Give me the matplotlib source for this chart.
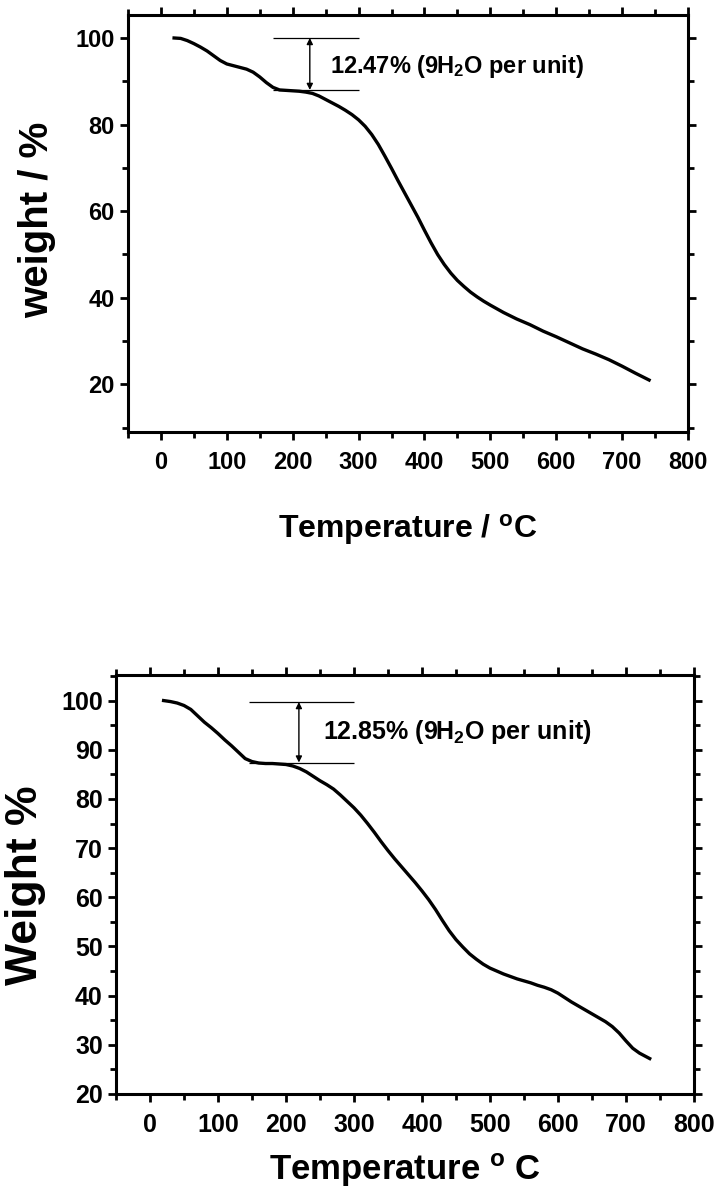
import matplotlib
matplotlib.use("Agg")
import matplotlib.pyplot as plt
from matplotlib.ticker import MultipleLocator

# fuente tipo Arial en negrita
plt.rcParams['font.family'] = ['Liberation Sans Narrow', 'Liberation Sans', 'DejaVu Sans']
plt.rcParams['font.weight'] = 'bold'
plt.rcParams['axes.labelweight'] = 'bold'
plt.rcParams['mathtext.fontset'] = 'custom'
plt.rcParams['mathtext.rm'] = 'Liberation Sans:bold'
plt.rcParams['mathtext.it'] = 'Liberation Sans'
plt.rcParams['mathtext.bf'] = 'Liberation Sans:bold'

# Datos curva superior (TGA)
temp_a = [20, 30, 40, 50, 60, 70, 80, 90, 100, 110, 120, 130, 140, 150, 160, 170, 180, 190,
          200, 210, 220, 230, 240, 250, 260, 270, 280, 290, 300, 310, 320, 330, 340, 350,
          360, 370, 380, 390, 400, 410, 420, 430, 440, 450, 460, 470, 480, 490, 500, 520,
          540, 560, 580, 600, 620, 640, 660, 680, 700, 720, 741]
weight_a = [100.0, 99.9, 99.4, 98.7, 97.9, 97.0, 95.9, 94.8, 94.0, 93.6, 93.2, 92.8, 92.1,
            91.0, 89.7, 88.6, 88.0, 87.9, 87.8, 87.7, 87.5, 87.2, 86.6, 85.8, 85.0, 84.2,
            83.3, 82.3, 81.1, 79.6, 77.7, 75.4, 72.7, 69.9, 67.0, 64.2, 61.4, 58.6, 55.6,
            52.7, 50.0, 47.7, 45.7, 44.0, 42.6, 41.3, 40.2, 39.2, 38.3, 36.6, 35.1, 33.8,
            32.3, 31.0, 29.6, 28.2, 27.0, 25.7, 24.2, 22.6, 21.0]

# Datos curva inferior
temp_b = [20, 30, 40, 50, 60, 70, 80, 90, 100, 110, 120, 130, 140, 150, 160, 170, 180, 190,
          200, 210, 220, 230, 240, 250, 260, 270, 280, 290, 300, 310, 320, 330, 340, 350,
          360, 370, 380, 390, 400, 410, 420, 430, 440, 450, 460, 470, 480, 490, 500, 510,
          520, 530, 540, 550, 560, 570, 580, 590, 600, 610, 620, 630, 640, 650, 660, 670,
          680, 690, 700, 710, 720, 735]
weight_b = [100.0, 99.8, 99.5, 99.0, 98.2, 96.9, 95.6, 94.5, 93.3, 92.0, 90.8, 89.5, 88.2,
            87.6, 87.3, 87.2, 87.2, 87.1, 87.0, 86.7, 86.2, 85.5, 84.6, 83.7, 82.9, 82.0,
            80.8, 79.5, 78.2, 76.7, 75.0, 73.2, 71.3, 69.5, 67.8, 66.2, 64.6, 63.0, 61.3,
            59.5, 57.5, 55.3, 53.2, 51.4, 49.9, 48.5, 47.4, 46.4, 45.6, 45.0, 44.4, 43.9,
            43.4, 43.0, 42.6, 42.1, 41.7, 41.2, 40.5, 39.6, 38.7, 37.9, 37.1, 36.3, 35.5,
            34.7, 33.7, 32.4, 30.8, 29.3, 28.3, 27.2]

# anotaciones de perdida de agua
loss_a = [100.0, 88.0]
loss_b = [99.7, 87.4]
label_a = '12.47% (9H$_2$O per unit)'
label_b = '12.85% (9H$_2$O per unit)'

fig = plt.figure(figsize=(7.17, 11.93), dpi=100)
ax1 = fig.add_axes([0.1785, 0.6379, 0.781, 0.3495])
ax2 = fig.add_axes([0.1618, 0.0830, 0.806, 0.3512])


def estilo(ax, tick_size):
    for s in ax.spines.values():
        s.set_linewidth(2.2)
    ax.tick_params(which='both', direction='out', width=2, labelsize=tick_size,
                   top=True, right=True, labeltop=False, labelright=False)
    ax.tick_params(which='major', length=6)
    ax.tick_params(which='minor', length=4)
    ax.tick_params(axis='x', which='major', pad=8)
    ax.xaxis.set_major_locator(MultipleLocator(100))
    ax.xaxis.set_minor_locator(MultipleLocator(50))
    ax.set_xlim(-50, 800)


# grafico superior
ax1.plot(temp_a, weight_a, color='black', lw=2.4, solid_joinstyle='round')
estilo(ax1, 17)
ax1.set_ylim(9, 105.3)
ax1.yaxis.set_major_locator(MultipleLocator(20))
ax1.yaxis.set_minor_locator(MultipleLocator(10))
ax1.hlines(loss_a, 170, 300, color='black', lw=0.9)
ax1.annotate('', xy=(226, loss_a[1]), xytext=(226, loss_a[0]),
             arrowprops=dict(arrowstyle='<|-|>', color='black', lw=1,
                             mutation_scale=9, shrinkA=0, shrinkB=0))
ax1.text(256, 93.3, label_a, fontsize=17, va='center', ha='left')
ax1.set_xlabel('Temperature / $^{o}$C', fontsize=23, va='center')
ax1.xaxis.set_label_coords(0.5, -0.235)
ax1.set_ylabel('weight / %', fontsize=29, va='center')
ax1.yaxis.set_label_coords(-0.163, 0.508)

# grafico inferior
ax2.plot(temp_b, weight_b, color='black', lw=2.4, solid_joinstyle='round')
estilo(ax2, 18)
ax2.set_ylim(20, 105.2)
ax2.yaxis.set_major_locator(MultipleLocator(10))
ax2.yaxis.set_minor_locator(MultipleLocator(5))
ax2.hlines(loss_b, 145, 300, color='black', lw=0.9)
ax2.annotate('', xy=(219, loss_b[1]), xytext=(219, loss_b[0]),
             arrowprops=dict(arrowstyle='<|-|>', color='black', lw=1,
                             mutation_scale=9, shrinkA=0, shrinkB=0))
ax2.text(254, 93.7, label_b, fontsize=18, va='center', ha='left')
ax2.set_xlabel('Temperature $^{o}$ C', fontsize=25, va='center')
ax2.xaxis.set_label_coords(0.5, -0.181)
ax2.set_ylabel('Weight %', fontsize=32, va='center')
ax2.yaxis.set_label_coords(-0.156, 0.499)

fig.savefig('out.png', dpi=100)
